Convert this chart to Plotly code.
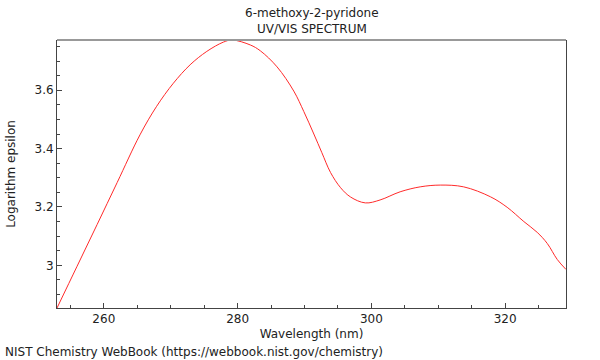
import plotly.graph_objects as go

wavelength = [253.0, 256.0, 259.0, 262.0, 265.4, 267.9, 270.4, 272.9, 275.4, 277.9, 279.2,
              281.9, 283.4, 285.9, 288.4, 289.9, 291.4, 292.6, 293.9, 295.4, 296.9,
              299.1, 301.3, 304.3, 307.3, 310.3, 313.8, 317.8, 320.3, 322.8, 324.8, 326.3,
              327.8, 329.1]
log_eps = [2.854, 2.997, 3.140, 3.284, 3.447, 3.545, 3.624, 3.687, 3.733, 3.765, 3.772,
           3.755, 3.735, 3.680, 3.597, 3.527, 3.450, 3.386, 3.318, 3.266, 3.234,
           3.214, 3.224, 3.252, 3.269, 3.275, 3.269, 3.235, 3.199, 3.150, 3.113, 3.075,
           3.020, 2.986]

x_ticks = [260, 280, 300, 320]
y_ticks = [3, 3.2, 3.4, 3.6]
y_tick_text = ["3", "3.2", "3.4", "3.6"]

FONT = "DejaVu Sans"

fig = go.Figure()
fig.add_trace(go.Scatter(x=wavelength, y=log_eps, mode="lines",
                         line=dict(color="#ff2a2a", width=1, shape="spline", smoothing=1.0),
                         hoverinfo="skip", showlegend=False))

fig.update_layout(
    width=600, height=360,
    margin=dict(l=57, r=34, t=40, b=52, autoexpand=False),
    paper_bgcolor="white", plot_bgcolor="white",
    font=dict(family=FONT, size=12, color="#222"),
    xaxis=dict(range=[253, 329.1], tickvals=x_ticks, ticks="inside", ticklen=5,
               tickcolor="#444", showline=True, linecolor="#444", linewidth=1,
               showgrid=False, zeroline=False, automargin=False,
               minor=dict(dtick=5, tick0=0, ticks="inside", ticklen=3, tickcolor="#444"),
               title=dict(text="Wavelength (nm)", font=dict(size=12), standoff=4)),
    yaxis=dict(range=[2.854, 3.772], tickvals=y_ticks, ticktext=y_tick_text,
               ticks="inside", ticklen=5, tickcolor="#444",
               showline=True, linecolor="#444", linewidth=1, mirror=True,
               showgrid=False, zeroline=False, automargin=False,
               minor=dict(dtick=0.05, tick0=0, ticks="inside", ticklen=3, tickcolor="#444"),
               title=dict(text="Logarithm epsilon", font=dict(size=12), standoff=16)),
    shapes=[dict(type="line", xref="paper", yref="paper", x0=0, x1=1, y0=1, y1=1,
                 line=dict(color="#999", width=2))],
    annotations=[
        dict(text="6-methoxy-2-pyridone", xref="paper", yref="paper", x=0.5, y=1,
             yshift=27, showarrow=False, font=dict(size=12), yanchor="middle"),
        dict(text="UV/VIS SPECTRUM", xref="paper", yref="paper", x=0.5, y=1,
             yshift=11, showarrow=False, font=dict(size=12), yanchor="middle"),
        dict(text="NIST Chemistry WebBook (https://webbook.nist.gov/chemistry)",
             xref="paper", yref="paper", x=0, xshift=-54, y=0, yshift=-44,
             xanchor="left", yanchor="middle", showarrow=False, font=dict(size=12)),
    ],
)

fig.write_html("out.html", config={"displayModeBar": False},
               post_script="document.body.style.margin='0';")
